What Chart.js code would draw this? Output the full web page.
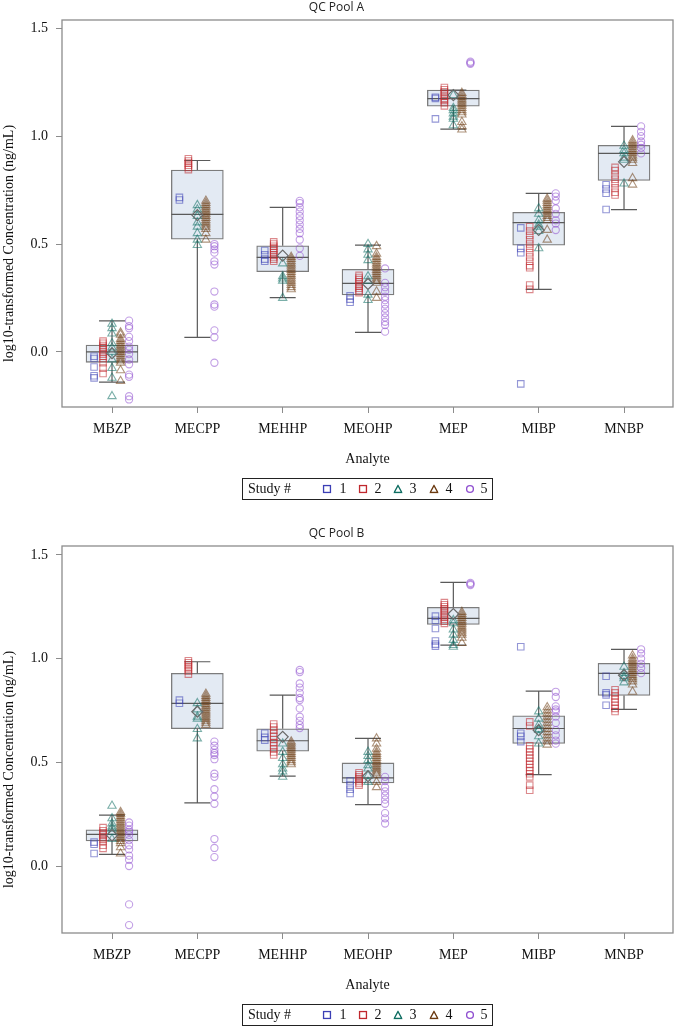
<!DOCTYPE html>
<html>
<head>
<meta charset="utf-8">
<script src="https://cdn.jsdelivr.net/npm/chart.js@4/dist/chart.umd.min.js"></script>
<style>
  html, body { margin:0; padding:0; background:#fff; overflow:hidden; }
  .panel { position:absolute; left:0; width:675px; height:526px; }
  .panel canvas { position:absolute; left:0; top:0; }
  .legend { position:absolute; left:242px; top:478px; width:251px; height:22px; box-sizing:border-box;
            border:1.5px solid #222; font-family:"Liberation Serif", "Times New Roman", serif; font-size:14px; color:#111; }
  .legend span { position:absolute; top:50%; transform:translate(-50%,-50%); line-height:1; white-space:nowrap; }
  .legend svg { position:absolute; top:50%; transform:translate(-50%,-50%); }
</style>
</head>
<body>
<div class="panel" style="top:0px"><canvas id="cA" width="675" height="526"></canvas><div class="legend" id="legA"></div></div>
<div class="panel" style="top:526px"><canvas id="cB" width="675" height="526"></canvas><div class="legend" id="legB"></div></div>
<script>
// ---------------- data ----------------
const analytes = ['MBZP', 'MECPP', 'MEHHP', 'MEOHP', 'MEP', 'MIBP', 'MNBP'];
const studies = ['1', '2', '3', '4', '5'];
const yTicks = [0.0, 0.5, 1.0, 1.5];

// QC Pool A box statistics
const poolA_q1     = [-0.048, 0.522, 0.372, 0.264, 1.139, 0.495, 0.795];
const poolA_median = [0.000, 0.637, 0.438, 0.318, 1.174, 0.599, 0.920];
const poolA_q3     = [0.032, 0.843, 0.492, 0.383, 1.213, 0.647, 0.957];
const poolA_lo     = [-0.140, 0.068, 0.252, 0.091, 1.032, 0.290, 0.659];
const poolA_hi     = [0.144, 0.887, 0.670, 0.495, 1.213, 0.735, 1.045];
const poolA_mean   = [-0.006, 0.634, 0.446, 0.315, 1.190, 0.565, 0.881];

// QC Pool A individual values by study (one list per analyte)
const poolA_s1 = [
  [-0.02, -0.03, -0.07, -0.11, -0.12],
  [0.716, 0.704],
  [0.47, 0.45, 0.43, 0.42],
  [0.26, 0.245, 0.23],
  [1.18, 1.175, 1.08],
  [0.575, 0.48, 0.46, -0.148],
  [0.775, 0.755, 0.735, 0.66]
];
const poolA_s2 = [
  [0.05, 0.04, 0.03, 0.02, 0.01, 0.0, -0.01, -0.02, -0.03, -0.05, -0.075, -0.1],
  [0.895, 0.885, 0.875, 0.865, 0.855, 0.845],
  [0.51, 0.5, 0.49, 0.48, 0.47, 0.46, 0.45, 0.44, 0.43, 0.42],
  [0.355, 0.345, 0.335, 0.325, 0.315, 0.305, 0.295, 0.285, 0.275],
  [1.225, 1.215, 1.205, 1.195, 1.185, 1.175, 1.165, 1.155, 1.14],
  [0.58, 0.56, 0.54, 0.52, 0.5, 0.48, 0.46, 0.44, 0.42, 0.4, 0.39, 0.31, 0.29],
  [0.855, 0.84, 0.82, 0.8, 0.78, 0.76, 0.74, 0.727]
];
const poolA_s3 = [
  [0.13, 0.11, 0.085, 0.04, 0.02, 0.0, -0.035, -0.075, -0.12, -0.205],
  [0.68, 0.66, 0.63, 0.6, 0.58, 0.55, 0.52, 0.495],
  [0.41, 0.35, 0.34, 0.33, 0.25],
  [0.5, 0.475, 0.45, 0.425, 0.35, 0.33, 0.265, 0.24],
  [1.19, 1.13, 1.12, 1.105, 1.09, 1.08, 1.05],
  [0.665, 0.64, 0.61, 0.59, 0.58, 0.56, 0.48],
  [0.955, 0.935, 0.92, 0.9, 0.89, 0.78]
];
const poolA_s4 = [
  [0.09, 0.08, 0.06, 0.05, 0.04, 0.03, 0.02, 0.01, 0.0, -0.01, -0.02, -0.03, -0.04, -0.05, -0.085, -0.135],
  [0.7, 0.69, 0.68, 0.67, 0.66, 0.65, 0.64, 0.63, 0.62, 0.61, 0.6, 0.59, 0.58, 0.57, 0.55, 0.52],
  [0.44, 0.43, 0.42, 0.41, 0.4, 0.39, 0.38, 0.37, 0.36, 0.35, 0.34, 0.33, 0.32, 0.31, 0.3, 0.29],
  [0.49, 0.455, 0.44, 0.43, 0.42, 0.41, 0.4, 0.39, 0.38, 0.37, 0.36, 0.35, 0.34, 0.33, 0.32, 0.28, 0.25],
  [1.2, 1.19, 1.18, 1.17, 1.16, 1.15, 1.14, 1.13, 1.12, 1.11, 1.1, 1.065, 1.045, 1.03],
  [0.71, 0.7, 0.69, 0.68, 0.67, 0.66, 0.65, 0.64, 0.63, 0.62, 0.61, 0.565, 0.52],
  [0.98, 0.97, 0.96, 0.95, 0.94, 0.93, 0.92, 0.91, 0.9, 0.89, 0.875, 0.805, 0.775]
];
const poolA_s5 = [
  [0.145, 0.12, 0.11, 0.07, 0.05, 0.025, 0.01, -0.01, -0.035, -0.057, -0.105, -0.115, -0.205, -0.22],
  [0.5, 0.49, 0.475, 0.46, 0.42, 0.405, 0.28, 0.22, 0.21, 0.1, 0.068, -0.05],
  [0.7, 0.69, 0.67, 0.65, 0.63, 0.61, 0.59, 0.57, 0.55, 0.52, 0.48, 0.445],
  [0.387, 0.32, 0.3, 0.28, 0.256, 0.24, 0.22, 0.2, 0.18, 0.16, 0.14, 0.125, 0.094],
  [1.345, 1.34, 1.335],
  [0.735, 0.72, 0.7, 0.665, 0.64, 0.61, 0.595, 0.565],
  [1.045, 1.02, 1.0, 0.975, 0.96, 0.945, 0.92]
];

// QC Pool B box statistics
const poolB_q1     = [0.121, 0.662, 0.554, 0.401, 1.165, 0.591, 0.822];
const poolB_median = [0.153, 0.784, 0.604, 0.425, 1.194, 0.663, 0.929];
const poolB_q3     = [0.175, 0.929, 0.662, 0.497, 1.247, 0.724, 0.977];
const poolB_lo     = [0.056, 0.304, 0.433, 0.296, 1.065, 0.441, 0.755];
const poolB_hi     = [0.245, 0.985, 0.824, 0.615, 1.368, 0.843, 1.045];
const poolB_mean   = [0.148, 0.744, 0.623, 0.433, 1.215, 0.655, 0.920];

// QC Pool B individual values by study
const poolB_s1 = [
  [0.115, 0.105, 0.06],
  [0.8, 0.785],
  [0.64, 0.62, 0.607],
  [0.41, 0.39, 0.37, 0.35],
  [1.205, 1.185, 1.145, 1.085, 1.07, 1.06],
  [1.057, 0.64, 0.625, 0.6],
  [0.915, 0.835, 0.825, 0.775]
];
const poolB_s2 = [
  [0.185, 0.17, 0.16, 0.15, 0.14, 0.13, 0.12, 0.1, 0.085],
  [0.99, 0.98, 0.97, 0.96, 0.95, 0.94, 0.925],
  [0.685, 0.67, 0.655, 0.64, 0.625, 0.61, 0.595, 0.58, 0.565, 0.55, 0.535],
  [0.45, 0.44, 0.43, 0.42, 0.41, 0.4, 0.39],
  [1.27, 1.26, 1.25, 1.24, 1.23, 1.22, 1.21, 1.2, 1.19, 1.18, 1.17],
  [0.695, 0.675, 0.58, 0.565, 0.55, 0.535, 0.52, 0.505, 0.49, 0.475, 0.46, 0.445, 0.43, 0.39, 0.365],
  [0.85, 0.835, 0.82, 0.805, 0.79, 0.775, 0.76, 0.745]
];
const poolB_s3 = [
  [0.29, 0.23, 0.205, 0.19, 0.18, 0.165, 0.13],
  [0.785, 0.755, 0.72, 0.71, 0.66, 0.615],
  [0.59, 0.55, 0.52, 0.49, 0.47, 0.455, 0.43],
  [0.55, 0.53, 0.51, 0.485, 0.47, 0.435, 0.405],
  [1.185, 1.17, 1.14, 1.115, 1.09, 1.065, 1.057],
  [0.745, 0.71, 0.68, 0.66, 0.655, 0.625, 0.59],
  [0.96, 0.93, 0.915, 0.905, 0.885]
];
const poolB_s4 = [
  [0.26, 0.25, 0.24, 0.23, 0.22, 0.21, 0.2, 0.19, 0.18, 0.17, 0.16, 0.15, 0.14, 0.13, 0.12, 0.11, 0.09, 0.06],
  [0.83, 0.82, 0.81, 0.8, 0.79, 0.78, 0.77, 0.76, 0.75, 0.74, 0.73, 0.72, 0.71, 0.7, 0.69, 0.68],
  [0.6, 0.59, 0.58, 0.57, 0.56, 0.55, 0.54, 0.53, 0.52, 0.51, 0.5, 0.49],
  [0.615, 0.59, 0.565, 0.55, 0.54, 0.53, 0.52, 0.51, 0.5, 0.49, 0.48, 0.47, 0.46, 0.45, 0.44, 0.405, 0.38],
  [1.225, 1.215, 1.205, 1.195, 1.185, 1.175, 1.165, 1.155, 1.145, 1.135, 1.125, 1.115, 1.1, 1.075],
  [0.765, 0.75, 0.735, 0.72, 0.705, 0.69, 0.675, 0.66, 0.645, 0.63, 0.615, 0.6, 0.585],
  [1.015, 1.0, 0.99, 0.98, 0.97, 0.96, 0.95, 0.94, 0.93, 0.92, 0.91, 0.9, 0.89, 0.875, 0.84]
];
const poolB_s5 = [
  [0.21, 0.195, 0.175, 0.165, 0.15, 0.125, 0.1, 0.08, 0.05, 0.03, 0.0, -0.185, -0.285],
  [0.6, 0.58, 0.56, 0.545, 0.535, 0.515, 0.445, 0.43, 0.37, 0.335, 0.3, 0.13, 0.087, 0.043],
  [0.945, 0.935, 0.88, 0.86, 0.835, 0.81, 0.8, 0.76, 0.72, 0.7, 0.68, 0.665],
  [0.43, 0.41, 0.38, 0.36, 0.34, 0.32, 0.3, 0.255, 0.23, 0.205],
  [1.365, 1.36, 1.355],
  [0.84, 0.815, 0.77, 0.755, 0.745, 0.72, 0.69, 0.655, 0.63, 0.605, 0.59],
  [1.045, 1.025, 1.0, 0.975, 0.955, 0.93]
];

// ---------------- styling ----------------
const studyColors = ['59,63,181', '192,40,46', '15,110,98', '107,58,16', '144,80,208'];
const studyShapes = ['rect', 'rect', 'triangle', 'triangle', 'circle'];
const studyRadius = [4.6, 4.6, 4.8, 4.8, 3.6];
const studyDodge = [-0.21, -0.105, 0, 0.1, 0.2];
const serif = '"Liberation Serif", "Times New Roman", serif';

const boxWhiskerPlugin = {
  id: 'boxWhisker',
  afterDatasetDraw(chart, args) {
    const ds = chart.data.datasets[args.index];
    if (!ds.boxStats) return;
    const ctx = chart.ctx, ys = chart.scales.y, st = ds.boxStats;
    ctx.save();
    ctx.strokeStyle = '#5a5a5a';
    ctx.lineWidth = 1.2;
    args.meta.data.forEach((el, i) => {
      const half = el.width / 2, cap = el.width / 4;
      const p = v => ys.getPixelForValue(v);
      ctx.beginPath();
      ctx.moveTo(el.x - half, p(st.median[i])); ctx.lineTo(el.x + half, p(st.median[i]));
      ctx.moveTo(el.x, p(st.q3[i])); ctx.lineTo(el.x, p(st.hi[i]));
      ctx.moveTo(el.x - cap, p(st.hi[i])); ctx.lineTo(el.x + cap, p(st.hi[i]));
      ctx.moveTo(el.x, p(st.q1[i])); ctx.lineTo(el.x, p(st.lo[i]));
      ctx.moveTo(el.x - cap, p(st.lo[i])); ctx.lineTo(el.x + cap, p(st.lo[i]));
      ctx.stroke();
    });
    ctx.restore();
  }
};

const framePlugin = {
  id: 'frameTitles',
  afterDraw(chart) {
    const {ctx, chartArea: a} = chart;
    ctx.save();
    ctx.strokeStyle = '#8c8c8c';
    ctx.lineWidth = 1.3;
    ctx.strokeRect(a.left, a.top, a.right - a.left, a.bottom - a.top);
    ctx.fillStyle = '#111';
    ctx.font = '14px ' + serif;
    ctx.textAlign = 'center';
    ctx.textBaseline = 'middle';
    ctx.fillText('Analyte', (a.left + a.right) / 2, a.bottom + 52);
    ctx.translate(9, (a.top + a.bottom) / 2 + 30);
    ctx.rotate(-Math.PI / 2);
    ctx.fillText('log10-transformed Concentration (ng/mL)', 0, 0);
    ctx.restore();
  }
};

function makePanel(canvasId, title, box, studyLists, yMin, yMax) {
  const datasets = [];
  datasets.push({
    type: 'bar',
    label: 'IQR',
    data: analytes.map((_, i) => ({x: i, y: [box.q1[i], box.q3[i]]})),
    backgroundColor: '#e3eaf3',
    borderColor: '#7c7c7c',
    borderWidth: 1.3,
    borderSkipped: false,
    barThickness: 52,
    order: 10,
    boxStats: box
  });
  studyLists.forEach((lists, s) => {
    const pts = [];
    lists.forEach((vals, i) => vals.forEach(v => pts.push({x: i + studyDodge[s], y: v})));
    datasets.push({
      type: 'scatter',
      label: studies[s],
      data: pts,
      pointStyle: studyShapes[s],
      pointRadius: studyRadius[s],
      borderWidth: 1.1,
      borderColor: 'rgba(' + studyColors[s] + ',0.55)',
      backgroundColor: 'rgba(0,0,0,0)',
      order: 5
    });
  });
  datasets.push({
    type: 'scatter',
    label: 'Mean',
    data: analytes.map((_, i) => ({x: i, y: box.mean[i]})),
    pointStyle: 'rectRot',
    pointRadius: 5.5,
    borderWidth: 1.2,
    borderColor: '#6a6a6a',
    backgroundColor: 'rgba(0,0,0,0)',
    order: 1
  });

  return new Chart(document.getElementById(canvasId), {
    type: 'scatter',
    data: {datasets},
    plugins: [boxWhiskerPlugin, framePlugin],
    options: {
      responsive: false,
      animation: false,
      events: [],
      layout: {autoPadding: false, padding: {left: 0, right: 2, top: 0, bottom: 0}},
      plugins: {
        legend: {display: false},
        tooltip: {enabled: false},
        title: {display: true, text: title, color: '#222',
                font: {family: '"Open Sans", "Noto Sans", sans-serif', size: 12, weight: 'normal', lineHeight: 1.2},
                padding: {top: 0.5, bottom: 5.1}}
      },
      scales: {
        x: {
          type: 'linear', min: -0.586, max: 6.574, offset: false,
          afterBuildTicks: s => { s.ticks = analytes.map((_, i) => ({value: i})); },
          afterFit: s => { s.height = 119; s.paddingLeft = 0; s.paddingRight = 0; },
          grid: {display: true, drawOnChartArea: false, drawTicks: true, tickLength: 6, color: '#8c8c8c', offset: false},
          border: {display: false},
          ticks: {autoSkip: false, maxRotation: 0, padding: 8, color: '#111',
                  font: {family: serif, size: 14},
                  callback: v => analytes[v] !== undefined ? analytes[v] : ''}
        },
        y: {
          type: 'linear', min: yMin, max: yMax,
          afterBuildTicks: s => { s.ticks = yTicks.map(v => ({value: v})); },
          afterFit: s => { s.width = 62; s.paddingTop = 0; s.paddingBottom = 0; },
          grid: {display: true, drawOnChartArea: false, drawTicks: true, tickLength: 6, color: '#8c8c8c'},
          border: {display: false},
          ticks: {padding: 8, color: '#111', font: {family: serif, size: 14},
                  callback: v => Number(v).toFixed(1)}
        }
      }
    }
  });
}

function buildLegend(id) {
  const el = document.getElementById(id);
  const left = 242;
  let html = '<span style="left:' + (268.5 - left) + 'px">Study #</span>';
  const symX = [326, 361.5, 397, 433, 469];
  const txtX = [342, 377, 412, 448, 483];
  studies.forEach((s, k) => {
    const c = 'rgb(' + studyColors[k] + ')';
    let shape;
    if (studyShapes[k] === 'rect') shape = '<rect x="1" y="1" width="7" height="7" fill="none" stroke="' + c + '" stroke-width="1.4"/>';
    else if (studyShapes[k] === 'triangle') shape = '<polygon points="4.5,1 8.3,8 0.7,8" fill="none" stroke="' + c + '" stroke-width="1.4"/>';
    else shape = '<circle cx="4.5" cy="4.5" r="3.4" fill="none" stroke="' + c + '" stroke-width="1.4"/>';
    html += '<svg width="9" height="9" style="left:' + (symX[k] - left) + 'px">' + shape + '</svg>';
    html += '<span style="left:' + (txtX[k] - left) + 'px">' + s + '</span>';
  });
  el.innerHTML = html;
}

makePanel('cA', 'QC Pool A',
  {q1: poolA_q1, median: poolA_median, q3: poolA_q3, lo: poolA_lo, hi: poolA_hi, mean: poolA_mean},
  [poolA_s1, poolA_s2, poolA_s3, poolA_s4, poolA_s5], -0.255, 1.538);
makePanel('cB', 'QC Pool B',
  {q1: poolB_q1, median: poolB_median, q3: poolB_q3, lo: poolB_lo, hi: poolB_hi, mean: poolB_mean},
  [poolB_s1, poolB_s2, poolB_s3, poolB_s4, poolB_s5], -0.323, 1.543);
buildLegend('legA');
buildLegend('legB');
</script>
</body>
</html>
